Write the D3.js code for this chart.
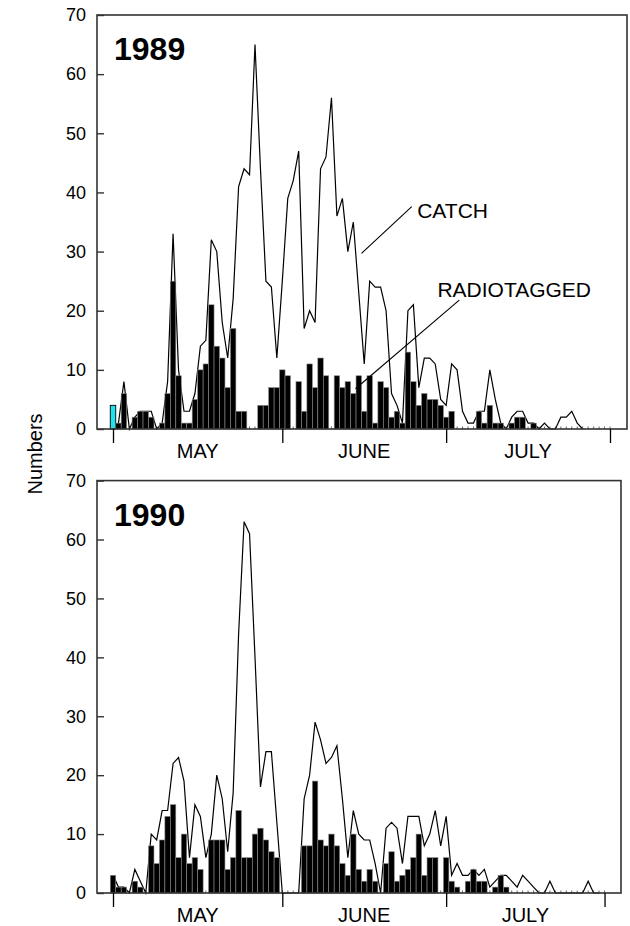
<!DOCTYPE html>
<html>
<head>
<meta charset="utf-8">
<script src="https://cdnjs.cloudflare.com/ajax/libs/d3/7.8.5/d3.min.js"></script>
<style>
  body { margin: 0; background: #fff; }
  text { font-family: Arial, "Liberation Sans", Helvetica, sans-serif; fill: #000; }
</style>
</head>
<body>
<script>

/* Data (day 0 = 1 May) */

var monthNames = ["MAY", "JUNE", "JULY"];
var monthTicks1989 = [0, 31, 61, 91];
var monthTicks1990 = [0, 31, 61, 90];
var yTicks = [0, 10, 20, 30, 40, 50, 60, 70];

// radiotagged fish per day (bars)
var radiotagged1989 = [4, 1, 6, 0, 2, 3, 3, 2, 0, 1,
                       6, 25, 9, 1, 1, 5, 10, 11, 21, 14,
                       12, 7, 17, 3, 3, 0, 0, 4, 4, 7,
                       7, 10, 9, 0, 8, 3, 11, 7, 12, 9,
                       0, 9, 7, 8, 6, 9, 3, 9, 1, 8,
                       7, 2, 3, 1, 13, 8, 4, 6, 5, 5,
                       4, 2, 3, 0, 0, 0, 0, 3, 1, 4,
                       1, 1, 0, 1, 2, 2, 0, 1];

// total catch per day (line)
var catch1989 = [null, 1, 8, 0, 2, 3, 3, 3, 0, 1,
                 8, 33, 10, 3, 3, 6, 14, 15, 32, 30,
                 18, 12, 22, 41, 44, 43, 65, 44, 25, 24,
                 12, 25, 39, 42, 47, 17, 20, 18, 44, 46,
                 56, 36, 39, 30, 35, 23, 11, 25, 24, 24,
                 20, 6, 4, 1, 20, 21, 7, 12, 12, 11,
                 5, 4, 11, 10, 3, 1, 1, 3, 3, 10,
                 5, 1, 0, 2, 3, 3, 1, 1, 0, 1,
                 0, 0, 2, 2, 3, 1, 0];

var radiotagged1990 = [3, 1, 1, 0, 2, 1, 0, 8, 5, 9,
                       13, 15, 6, 10, 5, 6, 4, 0, 9, 9,
                       9, 4, 6, 14, 6, 6, 10, 11, 9, 7,
                       6, 0, 0, 0, 0, 8, 8, 19, 9, 8,
                       10, 8, 5, 3, 10, 4, 2, 4, 2, 0,
                       5, 7, 2, 3, 4, 6, 10, 3, 6, 6,
                       0, 6, 2, 1, 0, 2, 4, 2, 2, 0,
                       1, 3, 1];

var catch1990 = [3, 1, 1, 0, 4, 2, 0, 10, 9, 14,
                 14, 22, 23, 19, 6, 15, 13, 6, 10, 20,
                 16, 7, 17, 44, 63, 61, 40, 18, 24, 24,
                 12, 0, 0, 0, 0, 16, 20, 29, 26, 22,
                 23, 25, 16, 6, 14, 10, 9, 9, 5, 0,
                 11, 12, 11, 5, 13, 13, 13, 8, 10, 14,
                 8, 13, 3, 5, 3, 3, 4, 3, 4, 1,
                 2, 3, 3, 2, 1, 3, 2, 1, 0, 0,
                 2, 0, 0, 0, 0, 0, 0, 2, 0, 0];

// append the svg object to the body of the page
var svg = d3.select("body").append("svg")
    .attr("width", 630)
    .attr("height", 926);

// set the x range (one step per day)
var left = 97;
var x = d3.scaleLinear().domain([0, 91]).range([113, 610]);
var barWidth = x(1) - x(0);

// draw one year panel
function drawPanel(p) {

  var y = d3.scaleLinear().domain([0, 70]).range([p.bottom, p.top]);
  var g = svg.append("g");

  // tiny day ticks along the axis
  g.selectAll(".minor")
      .data(d3.range(p.ticks[p.ticks.length - 1] + 1))
    .enter().append("line")
      .attr("x1", function(d) { return x(d); })
      .attr("x2", function(d) { return x(d); })
      .attr("y1", p.bottom)
      .attr("y2", p.bottom - 2.5)
      .attr("stroke", "#666")
      .attr("stroke-width", 1);

  // catch line
  var valueline = d3.line()
      .defined(function(d) { return d != null; })
      .x(function(d, i) { return x(i); })
      .y(function(d) { return y(d); });

  g.append("path")
      .datum(p.caught)
      .attr("fill", "none")
      .attr("stroke", "#000")
      .attr("stroke-width", 1.2)
      .attr("d", valueline);

  // radiotagged bars (zero days are skipped)
  var bars = p.tagged.map(function(v, i) { return {day: i, value: v}; })
      .filter(function(d) { return d.value > 0; });

  g.selectAll(".bar")
      .data(bars)
    .enter().append("rect")
      .attr("class", "bar")
      .attr("x", function(d) { return x(d.day) - barWidth / 2; })
      .attr("y", function(d) { return y(d.value); })
      .attr("width", barWidth)
      .attr("height", function(d) { return y(0) - y(d.value); })
      .attr("fill", function(d) { return d.day === p.highlight ? "#1ee3ee" : "#000"; })
      .attr("stroke", function(d) { return d.day === p.highlight ? "#000" : "#8a8a8a"; })
      .attr("stroke-width", function(d) { return d.day === p.highlight ? 0.9 : 0.6; });

  // frame
  g.append("rect")
      .attr("x", left)
      .attr("y", p.top)
      .attr("width", p.right - left)
      .attr("height", p.bottom - p.top)
      .attr("fill", "none")
      .attr("stroke", "#333")
      .attr("stroke-width", 1.6);

  // Add the Y Axis (ticks inside the frame)
  var yAxis = g.append("g")
      .attr("transform", "translate(" + left + ",0)")
      .call(d3.axisLeft(y)
          .tickValues(yTicks)
          .tickSizeInner(-7)
          .tickSizeOuter(0)
          .tickPadding(11));
  yAxis.select(".domain").remove();
  yAxis.selectAll("line").attr("stroke", "#333").attr("stroke-width", 1.4);
  yAxis.selectAll("text")
      .attr("font-size", 18)
      .attr("font-family", "Arial, 'Liberation Sans', sans-serif");

  // Add the X Axis (month boundaries)
  var xAxis = g.append("g")
      .attr("transform", "translate(0," + p.bottom + ")")
      .call(d3.axisBottom(x)
          .tickValues(p.ticks)
          .tickSize(14)
          .tickFormat(""));
  xAxis.select(".domain").remove();
  xAxis.selectAll("line").attr("stroke", "#000").attr("stroke-width", 1.3);

  // month names between the ticks
  g.selectAll(".month")
      .data(monthNames)
    .enter().append("text")
      .attr("x", function(d, i) { return x((p.ticks[i] + p.ticks[i + 1]) / 2); })
      .attr("y", p.bottom + 29)
      .attr("text-anchor", "middle")
      .attr("font-size", 20)
      .text(function(d) { return d; });

  // year label
  g.append("text")
      .attr("x", left + 17)
      .attr("y", p.top + 45)
      .attr("font-size", 32)
      .attr("font-weight", "bold")
      .text(p.year);

  return y;
}

var y1989 = drawPanel({
  year: "1989", top: 15, bottom: 429, right: 627,
  tagged: radiotagged1989, caught: catch1989,
  ticks: monthTicks1989, highlight: 0
});

var y1990 = drawPanel({
  year: "1990", top: 480.6, bottom: 893, right: 621,
  tagged: radiotagged1990, caught: catch1990,
  ticks: monthTicks1990, highlight: -1
});

// labels with leader lines (in day / count units)
var notes = [
  {text: "CATCH", from: [45.5, 29.7], to: [54.7, 37.6], at: [55.7, 35.6]},
  {text: "RADIOTAGGED", from: [44.4, 6.8], to: [63.4, 21.8], at: [59.4, 22.4]}
];

notes.forEach(function(n) {
  svg.append("line")
      .attr("x1", x(n.from[0])).attr("y1", y1989(n.from[1]))
      .attr("x2", x(n.to[0])).attr("y2", y1989(n.to[1]))
      .attr("stroke", "#000")
      .attr("stroke-width", 1.1);
  svg.append("text")
      .attr("x", x(n.at[0]))
      .attr("y", y1989(n.at[1]))
      .attr("font-size", 21)
      .text(n.text);
});

// text label for the y axis
svg.append("text")
    .attr("transform", "rotate(-90)")
    .attr("x", -454)
    .attr("y", 42)
    .style("text-anchor", "middle")
    .attr("font-size", 20)
    .text("Numbers");

</script>
</body>
</html>
